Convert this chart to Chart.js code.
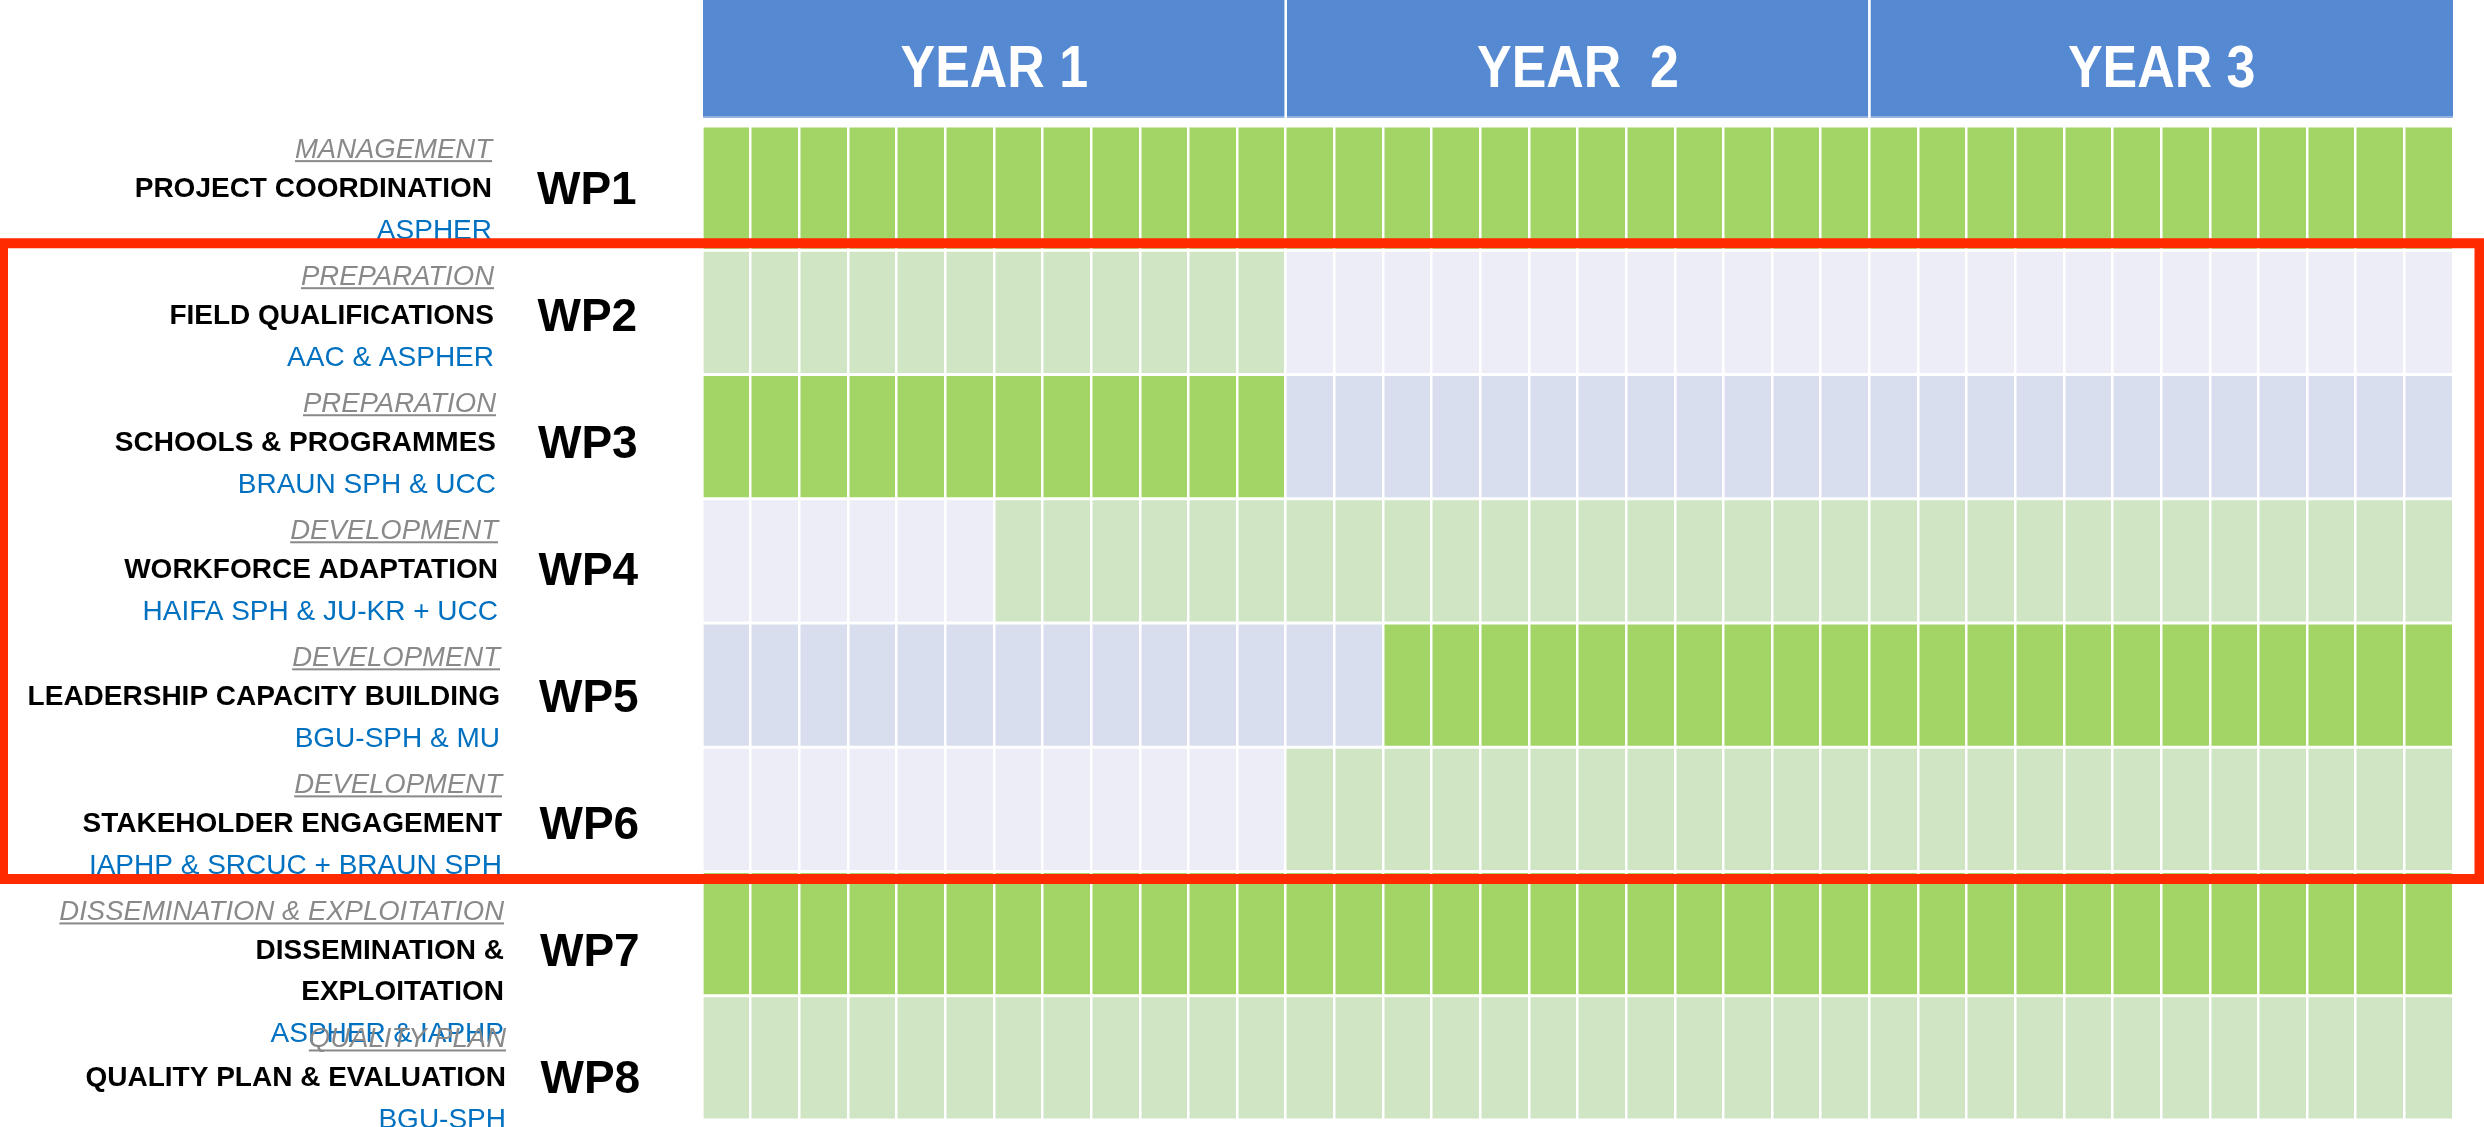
<!DOCTYPE html>
<html>
<head>
<meta charset="utf-8">
<title>Work plan</title>
<script src="https://cdn.jsdelivr.net/npm/chart.js@4/dist/chart.umd.min.js"></script>
<style>
    html, body { margin: 0; padding: 0; background: #fff; }
    canvas { display: block; }
</style>
</head>
<body>
<canvas id="workplan" width="2484" height="1127"></canvas>
<script>
const packages = ['WP1', 'WP2', 'WP3', 'WP4', 'WP5', 'WP6', 'WP7', 'WP8'];
const phases = ['MANAGEMENT', 'PREPARATION', 'PREPARATION', 'DEVELOPMENT', 'DEVELOPMENT', 'DEVELOPMENT', 'DISSEMINATION & EXPLOITATION', 'QUALITY PLAN'];
const titles = ['PROJECT COORDINATION', 'FIELD QUALIFICATIONS', 'SCHOOLS & PROGRAMMES', 'WORKFORCE ADAPTATION',
    'LEADERSHIP CAPACITY BUILDING', 'STAKEHOLDER ENGAGEMENT', ['DISSEMINATION &', 'EXPLOITATION'], 'QUALITY PLAN & EVALUATION'];
const leads = ['ASPHER', 'AAC & ASPHER', 'BRAUN SPH & UCC', 'HAIFA SPH & JU-KR + UCC', 'BGU-SPH & MU',
    'IAPHP & SRCUC + BRAUN SPH', 'ASPHER & IAPHP', 'BGU-SPH'];
const years = ['YEAR 1', 'YEAR  2', 'YEAR 3'];
const monthsPerYear = 12;
const totalMonths = 36;

// month at which each package goes from its first shade to its second one
const switchMonth = [36, 12, 12, 6, 14, 12, 36, 36];
const firstShade = ['active', 'light', 'active', 'idle', 'muted', 'idle', 'active', 'light'];
const secondShade = ['active', 'idle', 'muted', 'light', 'active', 'light', 'active', 'light'];
const highlighted = ['WP2', 'WP6'];

const shades = {
    active: '#A2D565',
    light: '#CFE5C4',
    idle: '#ECEDF7',
    muted: '#D9DEEE'
};
const FONT = '"Liberation Sans", Arial, sans-serif';

function drawHeader(ctx, x) {
    const bottom = 118;
    ctx.save();
    years.forEach((label, i) => {
        const left = x.getPixelForValue(i * monthsPerYear) + 1;
        const right = x.getPixelForValue((i + 1) * monthsPerYear);
        ctx.fillStyle = '#5589D1';
        ctx.fillRect(left, 0, right - left, bottom);
        ctx.fillStyle = '#93B2E2';
        ctx.fillRect(left, bottom - 2, right - left, 2);

        ctx.save();
        ctx.translate((left + right) / 2, 87);
        ctx.scale(0.88, 1);
        ctx.font = 'bold 59px ' + FONT;
        ctx.fillStyle = '#fff';
        ctx.textAlign = 'center';
        ctx.fillText(label, 0, 0);
        ctx.restore();
    });
    ctx.strokeStyle = '#fff';
    ctx.lineWidth = 2.5;
    for (let i = 1; i < years.length; i++) {
        const px = x.getPixelForValue(i * monthsPerYear);
        ctx.beginPath();
        ctx.moveTo(px, 0);
        ctx.lineTo(px, bottom);
        ctx.stroke();
    }
    ctx.restore();
}

function drawRowLabels(ctx, y) {
    ctx.save();
    packages.forEach((wp, i) => {
        // the text boxes sit a little lower and further right on each row
        const c = y.getPixelForValue(i) + i * 2.8 - 1;
        const textRight = 492 + i * 2;

        ctx.textAlign = 'right';
        ctx.font = 'italic 27.5px ' + FONT;
        ctx.fillStyle = '#898989';
        ctx.fillText(phases[i], textRight, c - 29);
        const w = ctx.measureText(phases[i]).width;
        ctx.fillRect(textRight - w, c - 27, w, 2);

        const lines = [].concat(titles[i]);
        ctx.font = 'bold 28px ' + FONT;
        ctx.fillStyle = '#000';
        lines.forEach((t, k) => ctx.fillText(t, textRight, c + 10 + k * 41));

        ctx.font = '28px ' + FONT;
        ctx.fillStyle = '#0070C0';
        ctx.fillText(leads[i], textRight, c + 11 + lines.length * 41);

        ctx.textAlign = 'left';
        ctx.font = 'bold 46px ' + FONT;
        ctx.fillStyle = '#000';
        ctx.fillText(wp, 537 + i * 0.5, c + 16.5);
    });
    ctx.restore();
}

function drawHighlight(ctx, chart, y) {
    const top = y.getPixelForValue(packages.indexOf(highlighted[0]) - 0.5) - 7;
    const bottom = y.getPixelForValue(packages.indexOf(highlighted[1]) + 0.5) + 7.5;
    ctx.save();
    ctx.strokeStyle = '#FF2A00';
    ctx.lineWidth = 10;
    ctx.strokeRect(3, top, chart.width - 7.5, bottom - top);
    ctx.restore();
}

const sheetPlugin = {
    id: 'sheet',
    afterDraw(chart) {
        const ctx = chart.ctx;
        drawHeader(ctx, chart.scales.x);
        drawRowLabels(ctx, chart.scales.y);
        drawHighlight(ctx, chart, chart.scales.y);
    }
};

new Chart(document.getElementById('workplan'), {
    type: 'bar',
    data: {
        labels: packages,
        datasets: [
            {
                label: 'first shade',
                data: switchMonth.map((m) => [0, m]),
                backgroundColor: firstShade.map((s) => shades[s])
            },
            {
                label: 'second shade',
                data: switchMonth.map((m) => [m, totalMonths]),
                backgroundColor: secondShade.map((s) => shades[s])
            }
        ]
    },
    options: {
        indexAxis: 'y',
        responsive: false,
        animation: false,
        devicePixelRatio: 1,
        layout: {
            padding: {left: 702, right: 31, top: 126, bottom: 7}
        },
        datasets: {
            bar: {grouped: false, barPercentage: 0.976, categoryPercentage: 1, borderWidth: 0}
        },
        scales: {
            x: {
                type: 'linear',
                position: 'top',
                min: 0,
                max: totalMonths,
                ticks: {display: false, stepSize: 1},
                grid: {color: '#fff', lineWidth: 2.5, drawTicks: false, z: 1},
                border: {display: false}
            },
            y: {display: false}
        },
        plugins: {
            legend: {display: false},
            tooltip: {enabled: false}
        }
    },
    plugins: [sheetPlugin]
});
</script>
</body>
</html>
